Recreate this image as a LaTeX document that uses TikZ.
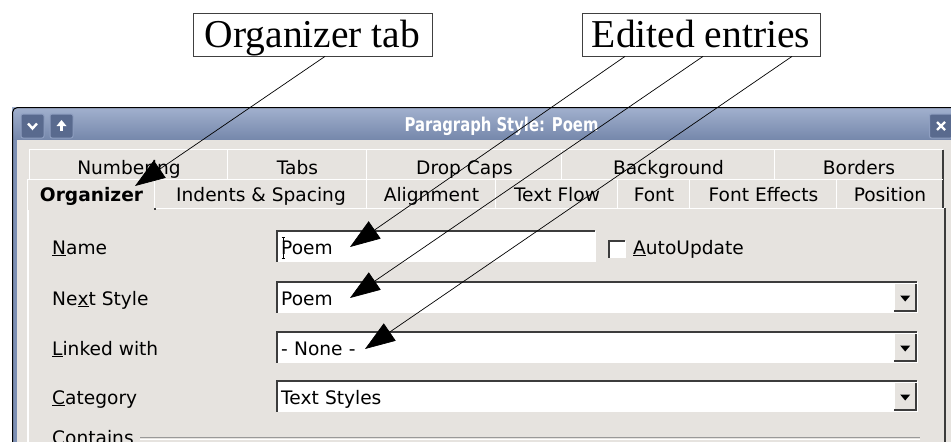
\documentclass[tikz,border=0pt]{standalone}
\usepackage{fontspec}
\setmainfont{Liberation Serif}
\newfontfamily\dlgfont{DejaVu Sans}
\usepackage{graphicx}
\usetikzlibrary{arrows.meta}
\definecolor{dlgbg}{HTML}{E6E3DF}
\definecolor{tbtop}{HTML}{A2B1CE}
\definecolor{tbbot}{HTML}{7587AB}
\definecolor{frameblue}{HTML}{7D8FB3}
\definecolor{btnfill}{HTML}{596A8E}
\definecolor{btnedge}{HTML}{8E9EC0}
\definecolor{edgedark}{HTML}{3C3C3C}
\newcommand{\mn}[1]{\underline{#1}}
\tikzset{
  dlg/.style={font=\dlgfont\fontsize{18.6}{22}\selectfont, inner sep=0pt},
  lite/.style={white, line width=1.2pt},
  dark/.style={edgedark, line width=2pt},
  raised/.style={append after command={
      (\tikzlastnode.south west) edge[lite, to path={|- (\tikztotarget)}] (\tikzlastnode.north east)
      (\tikzlastnode.north east) edge[dark] (\tikzlastnode.south east)}},
  sunken/.style={append after command={
      (\tikzlastnode.south west) edge[lite, to path={-| (\tikztotarget)}] (\tikzlastnode.north east)
      (\tikzlastnode.south west) edge[dark, to path={|- (\tikztotarget)}] (\tikzlastnode.north east)}},
  tabback/.style={dlg, raised, fill=dlgbg, anchor=base, text height=24pt, text depth=6pt},
  tabfront/.style={dlg, raised, fill=dlgbg, anchor=base, text height=21pt, text depth=7pt},
  tabsel/.style={tabfront, font=\dlgfont\fontsize{18.6}{22}\selectfont\bfseries, text depth=9pt},
  label/.style={dlg, anchor=base west},
  field/.style={dlg, sunken, fill=white, anchor=base west, inner xsep=4pt, align=left,
      text height=22.5pt, text depth=7.5pt},
  dropbtn/.style={fill=dlgbg, inner sep=0pt, minimum width=22pt, minimum height=27pt,
      append after command={
      (\tikzlastnode.south west) edge[lite, to path={|- (\tikztotarget)}] (\tikzlastnode.north east)
      (\tikzlastnode.south west) edge[dark, to path={-| (\tikztotarget)}] (\tikzlastnode.north east)},
      path picture={\fill[black] ([xshift=-5pt,yshift=2pt]path picture bounding box.center)
        -- ++(10pt,0pt) -- ++(-5pt,-6pt) -- cycle;}},
  tbbtn/.style={fill=btnfill, draw=btnedge, line width=1pt, rounded corners=2pt,
      minimum width=23pt, minimum height=24pt, inner sep=0pt},
  glyph/.style={white, line width=2.4pt},
  callbox/.style={draw=black!75, line width=0.8pt, fill=white, inner sep=0pt, anchor=base,
      text height=34.5pt, text depth=8.5pt, font=\fontsize{39.5}{44}\selectfont},
  callout/.style={line width=0.7pt, -{Triangle[length=30pt,width=21pt]}}
}
\begin{document}
\begin{tikzpicture}[x=1pt,y=-1pt]
    \useasboundingbox (0,0) rectangle (951,442);
    \clip (0,0) rectangle (951,442);
    \fill[white] (0,0) rectangle (951,442);

    % window frame and title bar
    \shade[top color=tbtop, bottom color=tbbot] (12,107) rectangle (951,140);
    \fill[dlgbg] (17,140) rectangle (951,442);
    \fill[frameblue] (12,140) rectangle (17,442);
    \draw[line width=1pt, rounded corners=5pt] (12.5,442) -- (12.5,107.5) -- (951,107.5);
    \node(shadebtn)[tbbtn] at (32.5,126) {};
    \node(raisebtn)[tbbtn] at (61.5,126) {};
    \node(closebtn)[tbbtn] at (941,126) {};
    \draw[glyph] ([xshift=-4.5pt,yshift=2.5pt]shadebtn.center) -- ([yshift=-2.5pt]shadebtn.center) -- ([xshift=4.5pt,yshift=2.5pt]shadebtn.center);
    \draw[glyph] ([yshift=-5pt]raisebtn.center) -- ([yshift=2pt]raisebtn.center);
    \fill[white] ([xshift=-5pt]raisebtn.center) -- ([yshift=6pt]raisebtn.center) -- ([xshift=5pt]raisebtn.center) -- cycle;
    \draw[glyph] ([xshift=-4pt,yshift=4pt]closebtn.center) -- ([xshift=4pt,yshift=-4pt]closebtn.center);
    \draw[glyph] ([xshift=-4pt,yshift=-4pt]closebtn.center) -- ([xshift=4pt,yshift=4pt]closebtn.center);
    \node(title)[font=\dlgfont\fontsize{19}{22}\selectfont\bfseries, text=white, inner sep=0pt] at (501.5,126) {\scalebox{0.78}[1]{Paragraph Style: Poem}};

    % panel and tabs
    \draw[lite] (28,442) |- (945,208);
    \draw[dark] (945,208) -- (945,442);
    \node(numbering)[tabback, minimum width=198pt] at (129,174) {Numbering};
    \node(tabs)[tabback, minimum width=139pt] at (297.5,174) {Tabs};
    \node(dropcaps)[tabback, minimum width=195pt] at (464.5,174) {Drop Caps};
    \node(background)[tabback, minimum width=213pt] at (668.5,174) {Background};
    \node(borders)[tabback, minimum width=168pt] at (859,174) {Borders};
    \node(organizer)[tabsel, minimum width=127pt] at (91.5,201) {Organizer};
    \node(indents)[tabfront, minimum width=212pt] at (261,201) {Indents \& Spacing};
    \node(alignment)[tabfront, minimum width=129pt] at (431.5,201) {Alignment};
    \node(textflow)[tabfront, minimum width=122pt] at (557,201) {Text Flow};
    \node(font)[tabfront, minimum width=72pt] at (654,201) {Font};
    \node(fonteffects)[tabfront, minimum width=147pt] at (763.5,201) {Font Effects};
    \node(position)[tabfront, minimum width=106pt] at (890,201) {Position};

    % entries
    \node(namelbl)[label] at (52,254) {\mn{N}ame};
    \node(nextlbl)[label] at (52,305) {Ne\mn{x}t Style};
    \node(linklbl)[label] at (52,355) {\mn{L}inked with};
    \node(catlbl)[label] at (52,404) {\mn{C}ategory};
    \node(contlbl)[label] at (52,444) {Contains};
    \node(namefld)[field, text width=310pt] at (277,254) {Poem};
    \node(nextfld)[field, text width=632pt] at (277,305) {Poem};
    \node(linkfld)[field, text width=632pt] at (277,355) {- None -};
    \node(catfld)[field, text width=632pt] at (277,404) {Text Styles};
    \node(nextbtn)[dropbtn, anchor=east] at ([xshift=-1pt]nextfld.east) {};
    \node(linkbtn)[dropbtn, anchor=east] at ([xshift=-1pt]linkfld.east) {};
    \node(catbtn)[dropbtn, anchor=east] at ([xshift=-1pt]catfld.east) {};
    \node(autochk)[sunken, fill=white, minimum size=16pt, inner sep=0pt] at (617,249.5) {};
    \node(autolbl)[label] at (633,254) {\mn{A}utoUpdate};
    \draw[line width=1pt] (283,237) -- (283,258) (281.5,237) -- (284.5,237) (281.5,258) -- (284.5,258);
    \draw[black!40] (140,437.5) -- (920,437.5);
    \draw[white] (140,439) -- (920,439);

    % callouts
    \node(orgcall)[callbox, minimum width=239pt] at (312.5,47.5) {Organizer tab};
    \node(edcall)[callbox, minimum width=238pt] at (701,47.5) {Edited entries};
    \coordinate (orgtip) at (135,186);
    \coordinate (nametip) at (350,247);
    \coordinate (nexttip) at (350,298);
    \coordinate (linktip) at (365,349);
    \draw[callout] ([xshift=12.5pt]orgcall.south) -- (orgtip);
    \draw[callout] ([xshift=-76pt]edcall.south) -- (nametip);
    \draw[callout] ([xshift=2pt]edcall.south) -- (nexttip);
    \draw[callout] ([xshift=91pt]edcall.south) -- (linktip);
\end{tikzpicture}
\end{document}
